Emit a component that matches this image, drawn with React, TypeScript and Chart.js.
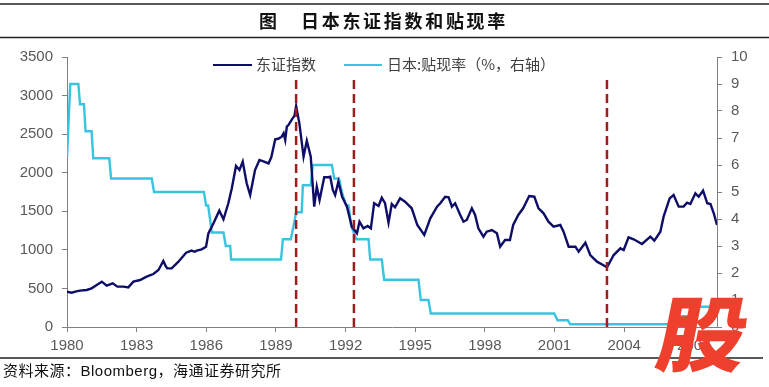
import React, { useEffect, useRef } from "react";
import { Chart, registerables } from "chart.js";

Chart.register(...registerables);

// ---- Data ----
const xTickYears = [1980, 1983, 1986, 1989, 1992, 1995, 1998, 2001, 2004, 2007];

const topixYears = [
  1980.0, 1980.2, 1980.4, 1980.56, 1980.85, 1981.06, 1981.28, 1981.5, 1981.71, 1981.97,
  1982.17, 1982.43, 1982.64, 1982.86, 1983.15, 1983.43, 1983.72, 1983.94, 1984.15, 1984.25,
  1984.32, 1984.51, 1984.8, 1985.13, 1985.37, 1985.5, 1985.59, 1985.8, 1985.99, 1986.09,
  1986.31, 1986.56, 1986.74, 1986.95, 1987.1, 1987.28, 1987.43, 1987.57, 1987.74, 1987.89,
  1988.1, 1988.29, 1988.49, 1988.68, 1988.8, 1988.97, 1989.1, 1989.25, 1989.33, 1989.4,
  1989.47, 1989.54, 1989.69, 1989.8, 1989.87, 1990.01, 1990.19, 1990.33, 1990.5, 1990.65,
  1990.76, 1990.88, 1991.08, 1991.26, 1991.34, 1991.45, 1991.55, 1991.69, 1991.85, 1992.06,
  1992.27, 1992.49, 1992.6, 1992.77, 1992.95, 1993.09, 1993.23, 1993.42, 1993.56, 1993.7,
  1993.85, 1993.99, 1994.13, 1994.35, 1994.56, 1994.85, 1995.09, 1995.39, 1995.65, 1995.94,
  1996.08, 1996.29, 1996.44, 1996.58, 1996.72, 1996.94, 1997.08, 1997.22, 1997.44, 1997.58,
  1997.72, 1997.94, 1998.08, 1998.3, 1998.52, 1998.66, 1998.87, 1999.08, 1999.22, 1999.44,
  1999.65, 1999.91, 2000.13, 2000.31, 2000.53, 2000.74, 2000.96, 2001.25, 2001.39, 2001.61,
  2001.9, 2002.04, 2002.33, 2002.54, 2002.83, 2003.09, 2003.26, 2003.55, 2003.84, 2003.98,
  2004.19, 2004.41, 2004.77, 2005.13, 2005.3, 2005.56, 2005.7, 2005.96, 2006.13, 2006.35,
  2006.56, 2006.71, 2006.85, 2007.07, 2007.21, 2007.4, 2007.58, 2007.72, 2007.86, 2008.0,
];

const topixValues = [
  458, 445, 462, 471, 480, 501, 544, 588, 536, 566,
  523, 523, 514, 588, 609, 652, 687, 739, 855, 790,
  760, 760, 847, 963, 990, 975, 990, 1007, 1041, 1214,
  1344, 1508, 1396, 1604, 1798, 2087, 2035, 2143, 1863, 1711,
  2035, 2165, 2143, 2121, 2200, 2433, 2440, 2467, 2511, 2424,
  2597, 2618, 2692, 2740, 2865, 2640, 2208, 2415, 2208, 1560,
  1819, 1646, 1941, 1941, 1948, 1776, 1711, 1884, 1689, 1560,
  1300, 1214, 1365, 1279, 1309, 1279, 1604, 1568, 1676, 1604,
  1352, 1594, 1551, 1668, 1624, 1539, 1322, 1193, 1409, 1560,
  1604, 1689, 1681, 1560, 1604, 1452, 1365, 1387, 1539, 1452,
  1279, 1171, 1236, 1257, 1214, 1041, 1128, 1128, 1322, 1452,
  1539, 1698, 1689, 1539, 1474, 1365, 1300, 1322, 1236, 1041,
  1041, 976, 1093, 933, 847, 804, 774, 933, 1020, 998,
  1163, 1137, 1076, 1171, 1119, 1236, 1430, 1668, 1711, 1560,
  1560, 1611, 1594, 1733, 1689, 1767, 1604, 1594, 1474, 1322,
];

const rateYears = [
  1980.0, 1980.14, 1980.49, 1980.56, 1980.73, 1980.8, 1981.06, 1981.13, 1981.82, 1981.9,
  1983.65, 1983.75, 1985.9, 1985.99, 1986.08, 1986.24, 1986.74, 1986.84, 1987.03, 1987.07,
  1989.22, 1989.3, 1989.64, 1989.76, 1989.87, 1990.11, 1990.16, 1990.5, 1990.59, 1991.41,
  1991.51, 1991.72, 1991.84, 1992.03, 1992.13, 1992.24, 1992.46, 1992.99, 1993.06, 1993.56,
  1993.66, 1995.14, 1995.24, 1995.57, 1995.67, 2000.99, 2001.13, 2001.57, 2001.68, 2006.35,
  2006.45, 2006.95, 2007.1, 2008.0,
];

const rateValues = [
  6.25, 9.0, 9.0, 8.25, 8.25, 7.25, 7.25, 6.25, 6.25, 5.5,
  5.5, 5.0, 5.0, 4.5, 4.5, 3.5, 3.5, 3.0, 3.0, 2.5,
  2.5, 3.25, 3.25, 3.75, 4.25, 4.25, 5.25, 5.25, 6.0, 6.0,
  5.5, 5.5, 5.0, 4.5, 4.5, 3.75, 3.25, 3.25, 2.5, 2.5,
  1.75, 1.75, 1.0, 1.0, 0.5, 0.5, 0.25, 0.25, 0.1, 0.1,
  0.4, 0.4, 0.75, 0.75,
];

const eventYears = [1989.87, 1992.36, 2003.26];
const eventTop = 3267;

const title = "日本东证指数和贴现率";
const titlePrefix = "图";
const legendTopix = "东证指数";
const legendRate = "日本:贴现率（%，右轴）";
const sourceText = "资料来源：Bloomberg，海通证券研究所";

const NAVY = "#0E0E68";
const CYAN = "#3AC4DF";
const RED = "#A01C1F";
const TICK = "#595959";
const AXIS = "#808080";

const decorPlugin = {
  id: "decor",
  afterDraw(chart: any) {
    const ctx = chart.ctx as CanvasRenderingContext2D;
    ctx.save();
    // title rules
    ctx.strokeStyle = "#222";
    ctx.lineWidth = 1.5;
    ctx.beginPath();
    ctx.moveTo(0, 4);
    ctx.lineTo(769, 4);
    ctx.moveTo(0, 37.5);
    ctx.lineTo(769, 37.5);
    ctx.stroke();
    // title
    ctx.fillStyle = "#111";
    ctx.font = 'bold 18px "Noto Sans CJK SC"';
    ctx.textBaseline = "middle";
    ctx.textAlign = "left";
    ctx.fillText(titlePrefix, 259, 21);
    const chars = Array.from(title);
    chars.forEach((c, i) => ctx.fillText(c, 301 + i * 20.7, 21));

    // legend
    ctx.lineWidth = 2.2;
    ctx.strokeStyle = NAVY;
    ctx.beginPath();
    ctx.moveTo(213, 65);
    ctx.lineTo(252, 65);
    ctx.stroke();
    ctx.strokeStyle = CYAN;
    ctx.beginPath();
    ctx.moveTo(344, 65);
    ctx.lineTo(382, 65);
    ctx.stroke();
    ctx.fillStyle = "#404040";
    ctx.font = '15px "Noto Sans CJK SC"';
    ctx.fillText(legendTopix, 256, 64.5);
    ctx.fillText(legendRate, 387, 64.5);

    // source rule and text
    ctx.strokeStyle = "#222";
    ctx.lineWidth = 1.5;
    ctx.beginPath();
    ctx.moveTo(0, 358);
    ctx.lineTo(763, 358);
    ctx.stroke();
    ctx.fillStyle = "#111";
    ctx.font = '15px "Liberation Sans", "Noto Sans CJK SC"';
    try {
      (ctx as any).letterSpacing = "0.5px";
    } catch (e) {}
    ctx.fillText(sourceText, 3, 372);
    try {
      (ctx as any).letterSpacing = "0px";
    } catch (e) {}

    // watermark
    ctx.save();
    ctx.translate(704, 331);
    ctx.transform(1.08, 0, -0.2, 1, 0, 0);
    ctx.font = '900 82px "Noto Sans CJK SC"';
    ctx.fillStyle = "#EE402C";
    ctx.textAlign = "center";
    ctx.textBaseline = "middle";
    ctx.fillText("股", 0, 3);
    ctx.restore();

    ctx.restore();
  },
};

export default function App() {
  const ref = useRef<HTMLCanvasElement | null>(null);

  useEffect(() => {
    document.body.style.margin = "0";
    const canvas = ref.current!;
    const topixData = topixYears.map((x, i) => ({ x, y: topixValues[i] }));
    const rateData = rateYears.map((x, i) => ({ x, y: rateValues[i] }));
    const eventSets = eventYears.map((yr) => ({
      label: "event",
      data: [
        { x: yr, y: 0 },
        { x: yr, y: eventTop },
      ],
      yAxisID: "y",
      borderColor: RED,
      borderWidth: 2.5,
      borderDash: [9, 5],
      pointRadius: 0,
      tension: 0,
    }));

    const chart = new Chart(canvas, {
      type: "line",
      data: {
        datasets: [
          ...eventSets,
          {
            label: legendTopix,
            data: topixData,
            yAxisID: "y",
            borderColor: NAVY,
            borderWidth: 2.4,
            pointRadius: 0,
            tension: 0,
          },
          {
            label: legendRate,
            data: rateData,
            yAxisID: "y1",
            borderColor: CYAN,
            borderWidth: 2.4,
            pointRadius: 0,
            tension: 0,
          },
        ] as any,
      },
      options: {
        animation: false,
        responsive: false,
        devicePixelRatio: 1,
        layout: { padding: { top: 57, left: 0, right: 0, bottom: 0 } },
        plugins: {
          legend: { display: false },
          tooltip: { enabled: false },
          title: { display: false },
        },
        scales: {
          x: {
            type: "linear",
            min: 1980,
            max: 2008,
            afterBuildTicks: (axis: any) => {
              axis.ticks = xTickYears.map((v) => ({ value: v }));
            },
            afterFit: (s: any) => {
              s.height = 60;
            },
            ticks: {
              color: TICK,
              font: { family: '"Liberation Sans", Arial', size: 15 },
              padding: 5,
              maxRotation: 0,
              autoSkip: false,
              callback: (v: any) => String(v),
            },
            grid: { display: true, drawOnChartArea: false, drawTicks: true, tickLength: 5, color: AXIS },
            border: { display: true, color: AXIS, width: 1 },
          },
          y: {
            type: "linear",
            position: "left",
            min: 0,
            max: 3500,
            afterFit: (s: any) => {
              s.width = 67;
            },
            ticks: {
              stepSize: 500,
              color: TICK,
              font: { family: '"Liberation Sans", Arial', size: 15 },
              padding: 9,
              callback: (v: any) => String(v),
            },
            grid: { display: true, drawOnChartArea: false, drawTicks: true, tickLength: 5, color: AXIS },
            border: { display: true, color: AXIS, width: 1 },
          },
          y1: {
            type: "linear",
            position: "right",
            min: 0,
            max: 10,
            afterFit: (s: any) => {
              s.width = 52;
            },
            ticks: {
              stepSize: 1,
              color: TICK,
              font: { family: '"Liberation Sans", Arial', size: 15 },
              padding: 9,
              callback: (v: any) => String(v),
            },
            grid: { display: true, drawOnChartArea: false, drawTicks: true, tickLength: 5, color: AXIS },
            border: { display: true, color: AXIS, width: 1 },
          },
        },
      } as any,
      plugins: [decorPlugin],
    });
    return () => chart.destroy();
  }, []);

  return (
    <div style={{ position: "absolute", left: 0, top: 0, width: 769, height: 387, background: "#fff" }}>
      <canvas ref={ref} width={769} height={387} style={{ display: "block", width: 769, height: 387 }} />
    </div>
  );
}
